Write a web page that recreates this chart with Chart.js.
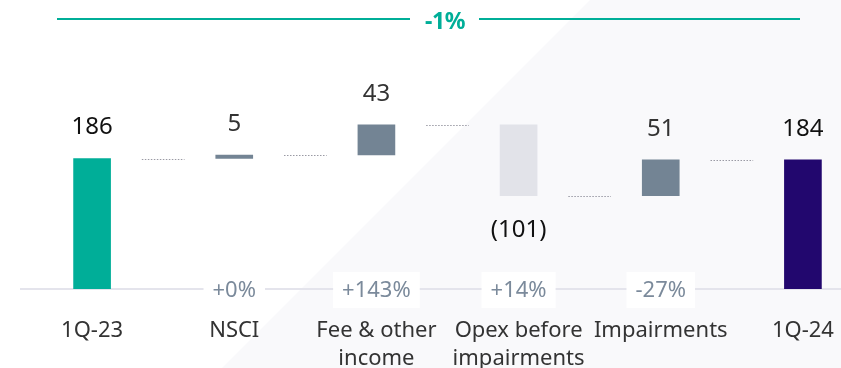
<!DOCTYPE html>
<html>
<head>
<meta charset="utf-8">
<script src="https://cdn.jsdelivr.net/npm/chart.js@4.4.1/dist/chart.umd.min.js"></script>
<style>
  html, body { margin: 0; padding: 0; background: #fff; }
  #wrap { position: relative; width: 841px; height: 368px; overflow: hidden; }
  #wrap canvas { position: absolute; left: 0; top: 0; }
  .rule { position: absolute; top: 18px; height: 1.5px; background: #00ae98; }
  #growth {
    position: absolute; left: 395px; width: 100px; top: 4px; text-align: center;
    font-family: "Noto Sans", sans-serif; font-weight: 700; font-size: 23px; color: #00ae98;
    letter-spacing: -0.5px;
  }
</style>
</head>
<body>
<div id="wrap">
  <canvas id="chart" width="874" height="368"></canvas>
  <div class="rule" style="left:57px;width:353px"></div>
  <div class="rule" style="left:479px;width:321px"></div>
  <div id="growth">-1%</div>
</div>
<script>
// bridge from 1Q-23 to 1Q-24
const categories = [['1Q-23'], ['NSCI'], ['Fee & other', 'income'], ['Opex before', 'impairments'], ['Impairments'], ['1Q-24']];
const values = [186, 5, 43, -101, 51, 184];
const isTotal = [true, false, false, false, false, true];
const valueLabels = ['186', '5', '43', '(101)', '51', '184'];
const changeLabels = ['', '+0%', '+143%', '+14%', '-27%', ''];

const barColors = ['#00ae98', '#738494', '#738494', '#e2e3e9', '#738494', '#22076e'];
const labelColors = ['#111', '#333', '#333', '#111', '#333', '#111'];
const FONT = '"Noto Sans", sans-serif';

// floating ranges for the waterfall
const ranges = [];
const levels = [];
let running = 0;
values.forEach((v, i) => {
  if (isTotal[i]) {
    ranges.push([0, v]);
    running = v;
  } else {
    ranges.push([running, running + v]);
    running += v;
  }
  levels.push(running);
});

const backdrop = {
  id: 'backdrop',
  beforeDraw(chart) {
    const ctx = chart.ctx;
    ctx.save();
    ctx.fillStyle = '#f9f9fb';
    ctx.beginPath();
    ctx.moveTo(590, 0);
    ctx.lineTo(chart.width, 0);
    ctx.lineTo(chart.width, chart.height);
    ctx.lineTo(222, chart.height);
    ctx.closePath();
    ctx.fill();
    ctx.restore();
  }
};

const annotations = {
  id: 'annotations',
  afterDatasetsDraw(chart) {
    const ctx = chart.ctx;
    const x = chart.scales.x;
    const y = chart.scales.y;
    const bars = chart.getDatasetMeta(0).data;
    const step = x.getPixelForValue(1) - x.getPixelForValue(0);
    ctx.save();

    // dotted connectors between steps
    ctx.strokeStyle = '#9a9aa4';
    ctx.lineWidth = 1;
    ctx.setLineDash([1.5, 1.5]);
    for (let i = 0; i < bars.length - 1; i++) {
      const cx = bars[i].x;
      const ly = Math.round(y.getPixelForValue(levels[i])) + 0.5;
      ctx.beginPath();
      ctx.moveTo(cx + step * 0.35, ly);
      ctx.lineTo(cx + step * 0.65, ly);
      ctx.stroke();
    }
    ctx.setLineDash([]);

    // value labels
    ctx.textAlign = 'center';
    ctx.textBaseline = 'middle';
    ctx.font = '24px ' + FONT;
    bars.forEach((bar, i) => {
      const top = Math.min(bar.y, bar.base);
      const bottom = Math.max(bar.y, bar.base);
      ctx.fillStyle = labelColors[i];
      if (values[i] < 0) ctx.fillText(valueLabels[i], bar.x, bottom + 34);
      else ctx.fillText(valueLabels[i], bar.x, top - 31);
    });

    // change badges on the baseline
    ctx.font = '22px ' + FONT;
    const base = y.getPixelForValue(0);
    bars.forEach((bar, i) => {
      if (!changeLabels[i]) return;
      const w = ctx.measureText(changeLabels[i]).width + 18;
      ctx.fillStyle = '#ffffff';
      ctx.fillRect(bar.x - w / 2, base - 17, w, 36);
      ctx.fillStyle = '#7b8a9b';
      ctx.fillText(changeLabels[i], bar.x, base + 2);
    });
    ctx.restore();
  }
};

new Chart(document.getElementById('chart'), {
  type: 'bar',
  data: {
    labels: categories,
    datasets: [{
      data: ranges,
      backgroundColor: barColors,
      borderWidth: 0,
      borderSkipped: false,
      barThickness: 37
    }]
  },
  options: {
    responsive: false,
    animation: false,
    layout: { padding: { left: 21, right: 0, top: 0, bottom: 0 } },
    plugins: { legend: { display: false }, tooltip: { enabled: false } },
    scales: {
      x: {
        grid: { display: false, drawTicks: false },
        border: { display: true, color: '#e4e4ec', width: 2 },
        ticks: { color: '#333', font: { family: FONT, size: 22, lineHeight: 1.27 }, padding: 28, maxRotation: 0, autoSkip: false },
        afterFit(scale) { scale.height = 79; }
      },
      y: {
        display: false,
        min: 0,
        max: 412
      }
    }
  },
  plugins: [backdrop, annotations]
});
</script>
</body>
</html>
